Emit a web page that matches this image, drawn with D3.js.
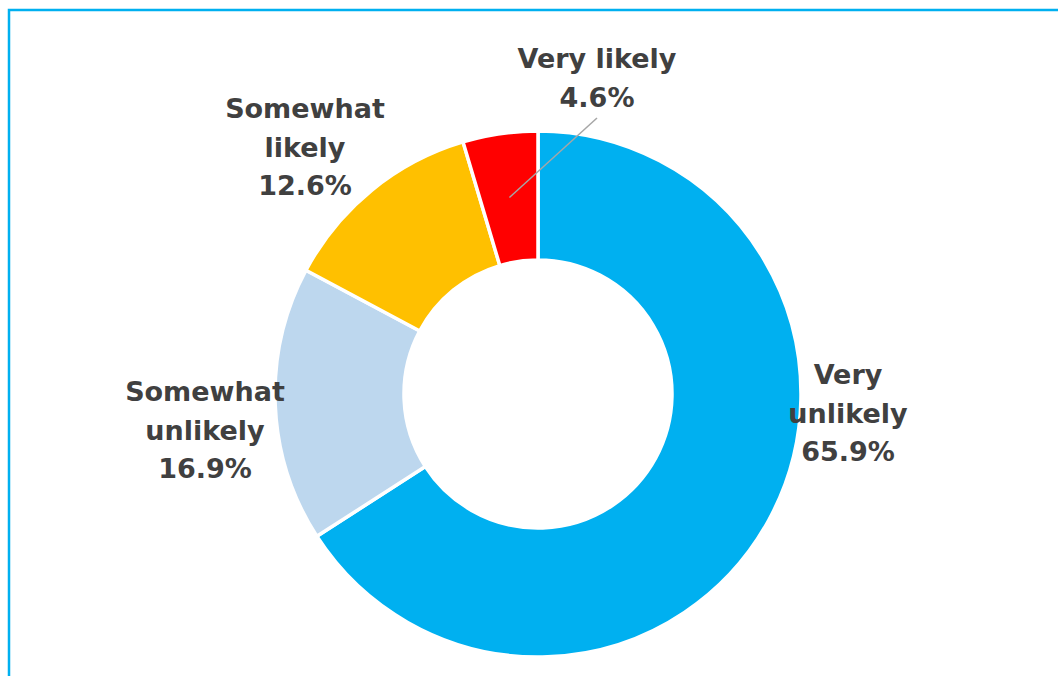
<!DOCTYPE html>
<html>
<head>
<meta charset="utf-8">
<script src="https://cdn.jsdelivr.net/npm/d3@7"></script>
<style>
  html, body { margin: 0; padding: 0; background: #fff; }
  svg { display: block; }
</style>
</head>
<body>
<svg id="chart" width="1058" height="676"></svg>
<script>
// Survey responses, share of respondents (%)
const categories = ["Very unlikely", "Somewhat unlikely", "Somewhat likely", "Very likely"];
const shares = [65.9, 16.9, 12.6, 4.6];
const colors = ["#00b0f0", "#bdd7ee", "#ffc000", "#ff0000"];

// label text lines for each slice
const labelLines = [
  ["Very", "unlikely"],
  ["Somewhat", "unlikely"],
  ["Somewhat", "likely"],
  ["Very likely"]
];

const W = 1058, H = 676;
const cx = 538, cy = 394;
const outerR = 263, innerR = 134;

const svg = d3.select("#chart");

// frame around the chart area
svg.append("rect")
  .attr("x", 9).attr("y", 10)
  .attr("width", W + 20).attr("height", H + 20)
  .attr("fill", "none")
  .attr("stroke", "#00b0f0")
  .attr("stroke-width", 2.5);

const data = categories.map((c, i) => ({ name: c, value: shares[i], color: colors[i], lines: labelLines[i] }));

const pie = d3.pie().sort(null).value(d => d.value);
const arc = d3.arc().innerRadius(innerR).outerRadius(outerR);
const arcs = pie(data);

const g = svg.append("g").attr("transform", `translate(${cx},${cy})`);

g.selectAll("path.slice")
  .data(arcs)
  .enter().append("path")
  .attr("class", "slice")
  .attr("d", arc)
  .attr("fill", d => d.data.color)
  .attr("stroke", "#ffffff")
  .attr("stroke-width", 3.5)
  .attr("stroke-linejoin", "miter");

// label anchors (center x, first-line baseline y), relative to the page
const labelAnchor = [
  { x: 848, y: 384 },
  { x: 205, y: 401 },
  { x: 305, y: 118 },
  { x: 597, y: 68 }
];
const lineH = 38.5;

// leader line for the thin slice
const thin = arcs[3];
const [lx, ly] = arc.centroid(thin);
svg.append("line")
  .attr("x1", cx + lx).attr("y1", cy + ly)
  .attr("x2", 597).attr("y2", 118)
  .attr("stroke", "#a6a6a6")
  .attr("stroke-width", 1.5);

const fmt = d3.format(".1f");

arcs.forEach((a, i) => {
  const lines = a.data.lines.concat([fmt(a.data.value) + "%"]);
  const t = svg.append("text")
    .attr("text-anchor", "middle")
    .attr("font-family", "'DejaVu Sans', sans-serif")
    .attr("font-weight", "bold")
    .attr("font-size", 27)
    .attr("fill", "#404040");
  lines.forEach((ln, k) => {
    t.append("tspan")
      .attr("x", labelAnchor[i].x)
      .attr("y", labelAnchor[i].y + k * lineH)
      .text(ln);
  });
});
</script>
</body>
</html>
